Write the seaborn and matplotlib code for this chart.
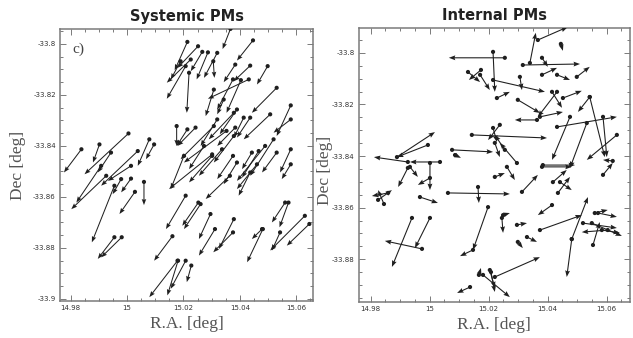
import numpy as np
import matplotlib
matplotlib.use("Agg")
import matplotlib.pyplot as plt
from matplotlib.ticker import MultipleLocator, FuncFormatter
import seaborn as sns

# ---------------- data (deg) ----------------
# Systemic PMs: tail (ra0, dec0) -> head (ra1, dec1)
sys_ra0 = [15.0367, 15.0447, 15.0214, 15.0252, 15.0267, 15.0287, 15.0320, 15.0306, 15.0226, 15.0208,
           15.0190, 15.0384, 15.0437, 15.0432, 15.0499, 15.0531, 15.0376, 15.0404, 15.0220, 15.0308,
           15.0343, 15.0581, 15.0581, 15.0176, 15.0214, 15.0243, 15.0320, 15.0379, 15.0390, 15.0414,
           15.0437, 15.0384, 15.0508, 15.0308, 15.0353, 15.0302, 15.0379, 15.0337, 15.0273, 15.0302,
           15.0202, 15.0376, 15.0390, 15.0443, 15.0467, 15.0490, 15.0520, 15.0531, 15.0581, 15.0581,
           15.0461, 15.0437, 14.9838, 15.0005, 14.9902, 14.9943, 15.0038, 15.0079, 15.0096, 15.0060,
           15.0014, 14.9979, 14.9926, 14.9908, 15.0014, 15.0028, 14.9955, 14.9955, 14.9981, 15.0208,
           15.0253, 15.0261, 15.0296, 15.0161, 15.0379, 15.0312, 15.0376, 15.0479, 15.0482, 15.0561,
           15.0573, 15.0631, 15.0647, 15.0543, 15.0179, 15.0181, 15.0208, 15.0228, 15.0365]
sys_dec0 = [-33.7941, -33.7986, -33.7992, -33.8009, -33.8031, -33.8033, -33.8035, -33.8068, -33.8061, -33.8087,
            -33.8068, -33.8081, -33.8085, -33.8139, -33.8087, -33.8172, -33.8139, -33.8142, -33.8113, -33.8179,
            -33.8218, -33.8241, -33.8296, -33.8322, -33.8335, -33.8328, -33.8296, -33.8270, -33.8257, -33.8289,
            -33.8289, -33.8328, -33.8276, -33.8322, -33.8341, -33.8433, -33.8361, -33.8413, -33.8400, -33.8439,
            -33.8439, -33.8439, -33.8465, -33.8426, -33.8420, -33.8400, -33.8374, -33.8426, -33.8413, -33.8472,
            -33.8472, -33.8504, -33.8413, -33.8351, -33.8394, -33.8426, -33.8420, -33.8374, -33.8394, -33.8541,
            -33.8478, -33.8530, -33.8517, -33.8478, -33.8528, -33.8580, -33.8556, -33.8758, -33.8758, -33.8595,
            -33.8622, -33.8628, -33.8667, -33.8754, -33.8687, -33.8726, -33.8739, -33.8726, -33.8726, -33.8622,
            -33.8622, -33.8674, -33.8706, -33.8739, -33.8850, -33.8850, -33.8850, -33.8869, -33.8517]
sys_ra1 = [15.0339, 15.0390, 15.0169, 15.0179, 15.0226, 15.0247, 15.0273, 15.0310, 15.0141, 15.0141,
           15.0155, 15.0343, 15.0379, 15.0287, 15.0461, 15.0443, 15.0320, 15.0353, 15.0212, 15.0279,
           15.0320, 15.0531, 15.0520, 15.0176, 15.0176, 15.0179, 15.0261, 15.0290, 15.0329, 15.0379,
           15.0390, 15.0320, 15.0414, 15.0190, 15.0202, 15.0149, 15.0308, 15.0255, 15.0220, 15.0220,
           15.0155, 15.0320, 15.0343, 15.0408, 15.0408, 15.0390, 15.0437, 15.0479, 15.0543, 15.0549,
           15.0390, 15.0396, 14.9776, 14.9849, 14.9879, 14.9896, 14.9908, 15.0038, 15.0067, 15.0060,
           14.9932, 14.9949, 14.9802, 14.9820, 14.9979, 14.9973, 14.9875, 14.9896, 14.9908, 15.0138,
           15.0196, 15.0202, 15.0255, 15.0096, 15.0326, 15.0255, 15.0306, 15.0443, 15.0426, 15.0514,
           15.0541, 15.0508, 15.0567, 15.0514, 15.0079, 15.0143, 15.0155, 15.0212, 15.0279]
sys_dec1 = [-33.8020, -33.8065, -33.8103, -33.8094, -33.8107, -33.8139, -33.8133, -33.8133, -33.8152, -33.8215,
            -33.8139, -33.8150, -33.8146, -33.8215, -33.8159, -33.8270, -33.8257, -33.8270, -33.8270, -33.8283,
            -33.8276, -33.8361, -33.8348, -33.8400, -33.8400, -33.8400, -33.8400, -33.8374, -33.8354, -33.8367,
            -33.8367, -33.8400, -33.8374, -33.8452, -33.8465, -33.8569, -33.8465, -33.8517, -33.8491, -33.8543,
            -33.8569, -33.8530, -33.8550, -33.8491, -33.8524, -33.8537, -33.8517, -33.8504, -33.8504, -33.8530,
            -33.8569, -33.8595, -33.8504, -33.8511, -33.8465, -33.8504, -33.8556, -33.8478, -33.8452, -33.8632,
            -33.8537, -33.8589, -33.8648, -33.8622, -33.8582, -33.8667, -33.8778, -33.8843, -33.8837, -33.8726,
            -33.8713, -33.8726, -33.8765, -33.8850, -33.8804, -33.8830, -33.8817, -33.8765, -33.8856, -33.8700,
            -33.8719, -33.8810, -33.8791, -33.8810, -33.8993, -33.8986, -33.8960, -33.8934, -33.8608]

# Internal PMs: tail (ra0, dec0) -> head (ra1, dec1)
int_ra0 = [15.0255, 15.0215, 15.0340, 15.0367, 15.0445, 15.0316, 15.0381, 15.0381, 15.0432, 15.0499,
           15.0171, 15.0130, 15.0174, 15.0215, 15.0306, 15.0415, 15.0452, 15.0228, 15.0299, 15.0432,
           15.0543, 15.0543, 15.0364, 15.0374, 15.0432, 15.0588, 15.0476, 15.0533, 15.0635, 15.0143,
           15.0215, 15.0238, 15.0255, 15.0076, 15.0086, 15.0221, 15.0296, 15.0381, 15.0221, 15.0262,
           15.0313, 15.0384, 15.0418, 15.0435, 15.0442, 15.0588, 15.0062, 15.0164, 15.0198, 15.0147,
           15.0137, 15.0249, 15.0245, 15.0296, 15.0415, 15.0374, 15.0482, 15.0482, 15.0560, 15.0571,
           15.0604, 15.0554, 15.0584, 15.0330, 15.0299, 15.0221, 15.0204, 15.0181, 14.9889, 14.9994,
           14.9926, 15.0035, 14.9933, 14.9926, 15.0001, 15.0001, 14.9967, 14.9940, 15.0001, 14.9974,
           14.9825, 14.9845, 14.9859, 15.0167, 15.0208, 15.0621, 15.0520, 15.0550]
int_dec0 = [-33.8019, -33.7996, -33.8039, -33.7950, -33.7965, -33.8047, -33.8019, -33.8085, -33.8085, -33.8093,
            -33.8085, -33.8074, -33.8066, -33.8105, -33.8093, -33.8151, -33.8175, -33.8175, -33.8182, -33.8151,
            -33.8171, -33.8171, -33.8260, -33.8248, -33.8287, -33.8248, -33.8248, -33.8272, -33.8318, -33.8318,
            -33.8291, -33.8279, -33.8376, -33.8376, -33.8396, -33.8349, -33.8427, -33.8442, -33.8481, -33.8442,
            -33.8539, -33.8435, -33.8501, -33.8543, -33.8501, -33.8473, -33.8543, -33.8520, -33.8598, -33.8764,
            -33.8908, -33.8629, -33.8640, -33.8667, -33.8590, -33.8687, -33.8722, -33.8722, -33.8621, -33.8621,
            -33.8687, -33.8745, -33.8687, -33.8714, -33.8733, -33.8869, -33.8842, -33.8861, -33.8404, -33.8357,
            -33.8423, -33.8423, -33.8442, -33.8446, -33.8427, -33.8485, -33.8559, -33.8640, -33.8640, -33.8760,
            -33.8570, -33.8586, -33.8543, -33.8861, -33.8850, -33.8419, -33.8660, -33.8660]
int_ra1 = [15.0065, 15.0221, 15.0360, 15.0469, 15.0452, 15.0510, 15.0401, 15.0432, 15.0476, 15.0543,
           15.0204, 15.0171, 15.0133, 15.0391, 15.0313, 15.0449, 15.0516, 15.0272, 15.0374, 15.0367,
           15.0503, 15.0594, 15.0289, 15.0452, 15.0635, 15.0601, 15.0415, 15.0476, 15.0533, 15.0398,
           15.0228, 15.0198, 15.0221, 15.0215, 15.0106, 15.0238, 15.0238, 15.0482, 15.0255, 15.0289,
           15.0367, 15.0493, 15.0465, 15.0476, 15.0482, 15.0621, 15.0272, 15.0167, 15.0147, 15.0103,
           15.0093, 15.0272, 15.0249, 15.0330, 15.0367, 15.0516, 15.0537, 15.0465, 15.0604, 15.0635,
           15.0516, 15.0577, 15.0645, 15.0364, 15.0316, 15.0374, 15.0221, 15.0272, 15.0018, 14.9889,
           14.9811, 14.9933, 14.9960, 14.9893, 15.0001, 14.9960, 15.0028, 14.9872, 14.9950, 14.9848,
           14.9872, 14.9825, 14.9804, 15.0174, 15.0221, 15.0588, 15.0635, 15.0652]
int_dec1 = [-33.8019, -33.8151, -33.7922, -33.7899, -33.7992, -33.8043, -33.8054, -33.8058, -33.8105, -33.8054,
            -33.8144, -33.8113, -33.8105, -33.8151, -33.8144, -33.8213, -33.8147, -33.8151, -33.8233, -33.8248,
            -33.8229, -33.8404, -33.8260, -33.8229, -33.8248, -33.8404, -33.8415, -33.8446, -33.8415, -33.8330,
            -33.8345, -33.8338, -33.8318, -33.8384, -33.8407, -33.8404, -33.8349, -33.8442, -33.8466, -33.8493,
            -33.8473, -33.8435, -33.8454, -33.8481, -33.8532, -33.8427, -33.8547, -33.8582, -33.8764, -33.8788,
            -33.8931, -33.8621, -33.8698, -33.8660, -33.8629, -33.8629, -33.8559, -33.8869, -33.8609, -33.8636,
            -33.8695, -33.8656, -33.8698, -33.8733, -33.8757, -33.8792, -33.8912, -33.8947, -33.8307, -33.8404,
            -33.8404, -33.8423, -33.8481, -33.8520, -33.8532, -33.8512, -33.8582, -33.8830, -33.8757, -33.8729,
            -33.8532, -33.8532, -33.8555, -33.8834, -33.8927, -33.8415, -33.8679, -33.8710]

titles = ["Systemic PMs", "Internal PMs"]
x_label = "R.A. [deg]"
y_label = "Dec [deg]"
panel_tag = "c)"

# ---------------- style ----------------
sns.set_theme(style="ticks")
plt.rcParams["font.family"] = ["DejaVu Sans"]
plt.rcParams["axes.unicode_minus"] = False

ARROW = "#1f1f1f"
FRAME = "#7a7a7a"
LABEL = "#555555"

fig = plt.figure(figsize=(6.33, 3.38), dpi=100)
axL = fig.add_axes([0.0948, 0.1095, 0.3997, 0.805])
axR = fig.add_axes([0.567, 0.1065, 0.428, 0.811])


def fmt(v, pos):
    return "%g" % round(v, 4)


def draw(ax, ra0, dec0, ra1, dec1, xlim, ylim, yticks, title, ylab_x, ylab_y):
    ra0 = np.asarray(ra0); dec0 = np.asarray(dec0)
    u = np.asarray(ra1) - ra0
    v = np.asarray(dec1) - dec0
    ax.quiver(ra0, dec0, u, v, angles="xy", scale_units="xy", scale=1,
              color=ARROW, width=0.0040, headwidth=4.5, headlength=6,
              headaxislength=5.3, minlength=0.5, zorder=3)
    sns.scatterplot(x=ra0, y=dec0, ax=ax, s=9, color=ARROW, edgecolor="none",
                    legend=False, zorder=4)
    ax.set_xlim(*xlim)
    ax.set_ylim(*ylim)
    ax.set_xticks([14.98, 15.0, 15.02, 15.04, 15.06])
    ax.set_yticks(yticks)
    ax.xaxis.set_minor_locator(MultipleLocator(0.005))
    ax.yaxis.set_minor_locator(MultipleLocator(0.005))
    ax.xaxis.set_major_formatter(FuncFormatter(fmt))
    ax.yaxis.set_major_formatter(FuncFormatter(fmt))
    ax.tick_params(which="both", direction="in", top=True, right=True,
                   color=FRAME, labelsize=5, labelcolor="#333333", width=0.7)
    ax.tick_params(which="major", length=4, pad=3)
    ax.tick_params(which="minor", length=2)
    for s in ax.spines.values():
        s.set_color(FRAME)
        s.set_linewidth(1.1)
    ax.set_title(title, fontsize=10.5, fontweight="bold", color="#222222", pad=6)
    ax.set_xlabel(x_label, fontsize=12.5, color=LABEL, family=["Liberation Serif", "DejaVu Serif"])
    ax.set_ylabel(y_label, fontsize=12.5, color=LABEL, family=["Liberation Serif", "DejaVu Serif"])
    ax.xaxis.set_label_coords(0.5, -0.055)
    ax.xaxis.label.set_va("top")
    ax.yaxis.set_label_coords(ylab_x, ylab_y)
    ax.yaxis.label.set_va("center")
    ax.grid(False)


draw(axL, sys_ra0, sys_dec0, sys_ra1, sys_dec1,
     (14.9762, 15.066), (-33.9008, -33.7941),
     [-33.9, -33.88, -33.86, -33.84, -33.82, -33.8], titles[0], -0.165, 0.5)
draw(axR, int_ra0, int_dec0, int_ra1, int_dec1,
     (14.976, 15.0679), (-33.8966, -33.7903),
     [-33.88, -33.86, -33.84, -33.82, -33.8], titles[1], -0.125, 0.48)

axL.text(0.05, 0.925, panel_tag, transform=axL.transAxes, fontsize=11,
         color="#444444", va="center", ha="left", family=["Liberation Serif", "DejaVu Serif"])

fig.savefig("out.png", dpi=100, facecolor="white")
